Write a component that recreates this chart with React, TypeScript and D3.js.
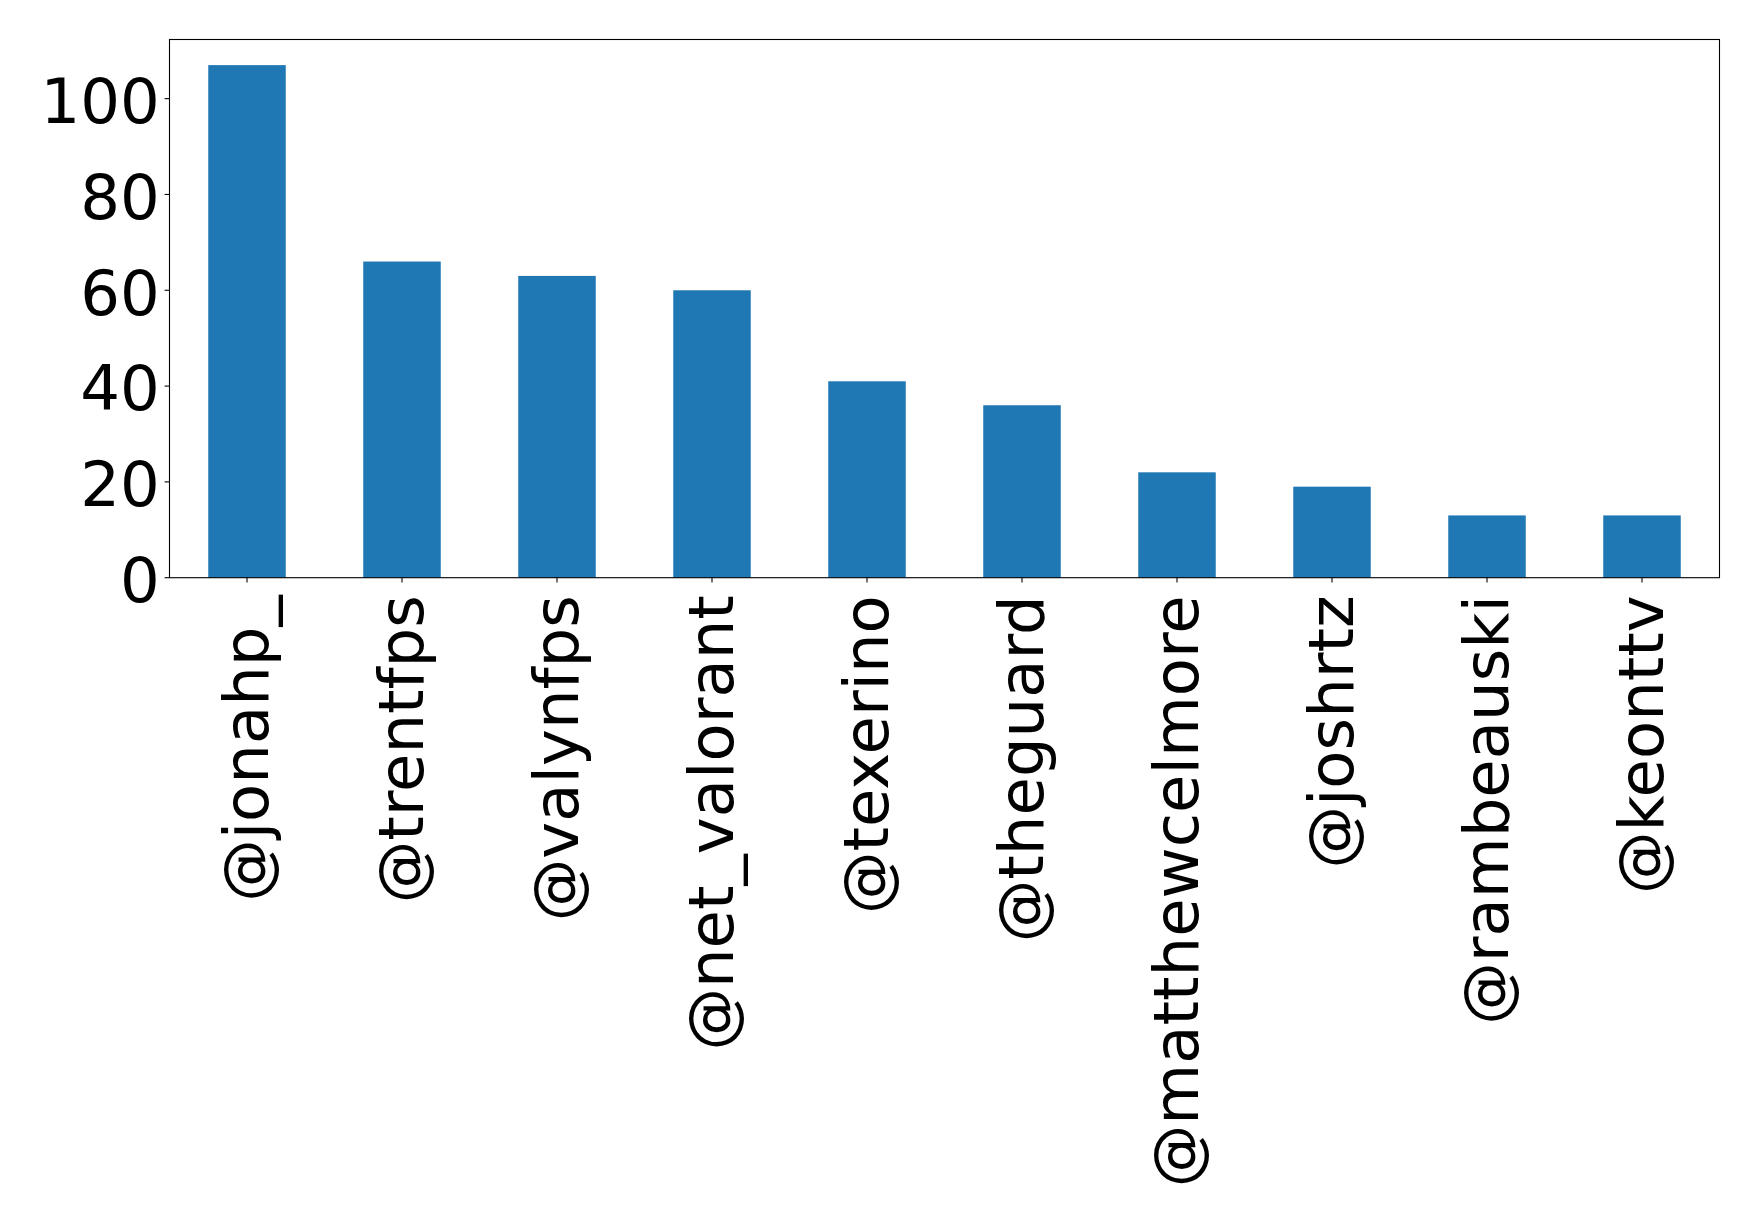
import React from "react";
import * as d3 from "d3";

const handles = [
  "@jonahp_",
  "@trentfps",
  "@valynfps",
  "@net_valorant",
  "@texerino",
  "@theguard",
  "@matthewcelmore",
  "@joshrtz",
  "@rambeauski",
  "@keonttv",
];
const counts = [107, 66, 63, 60, 41, 36, 22, 19, 13, 13];
const yTicks = [0, 20, 40, 60, 80, 100];

const W = 1758;
const H = 1220;
const plot = { left: 169.5, right: 1719.5, top: 39.5, bottom: 577.7 };
const FONT = "'DejaVu Sans', sans-serif";
const FS_Y = 62.5;
const FS_X = 62.5;
const TICK = 4.9;
const PAD = 4.9;

export default function App() {
  const x = d3
    .scaleLinear()
    .domain([-0.5, handles.length - 0.5])
    .range([plot.left, plot.right]);
  const yMax = d3.max(counts)! * 1.05;
  const y = d3.scaleLinear().domain([0, yMax]).range([plot.bottom, plot.top]);
  const barW = x(0.25) - x(-0.25);

  return (
    <svg
      width={W}
      height={H}
      viewBox={`0 0 ${W} ${H}`}
      style={{ position: "absolute", left: 0, top: 0, display: "block", background: "#fff" }}
    >
      <rect x={0} y={0} width={W} height={H} fill="#fff" />
      {counts.map((v, i) => (
        <rect
          key={handles[i]}
          x={x(i) - barW / 2}
          y={y(v)}
          width={barW}
          height={y(0) - y(v)}
          fill="#1f77b4"
        />
      ))}
      <rect
        x={plot.left}
        y={plot.top}
        width={plot.right - plot.left}
        height={plot.bottom - plot.top}
        fill="none"
        stroke="#000"
        strokeWidth={1.1}
      />
      {yTicks.map((t) => (
        <g key={t}>
          <line x1={plot.left - TICK} x2={plot.left} y1={y(t)} y2={y(t)} stroke="#000" strokeWidth={1.1} />
          <text
            x={plot.left - TICK - PAD}
            y={y(t)}
            dy="0.39em"
            textAnchor="end"
            fontFamily={FONT}
            fontSize={FS_Y}
            fill="#000"
          >
            {t}
          </text>
        </g>
      ))}
      {handles.map((h, i) => (
        <g key={h}>
          <line x1={x(i)} x2={x(i)} y1={plot.bottom} y2={plot.bottom + TICK} stroke="#000" strokeWidth={1.1} />
          <text
            transform={`translate(${x(i) + 0.338 * FS_X},${plot.bottom + 17.5}) rotate(-90)`}
            textAnchor="end"
            fontFamily={FONT}
            fontSize={FS_X}
            fill="#000"
          >
            {h}
          </text>
        </g>
      ))}
    </svg>
  );
}
